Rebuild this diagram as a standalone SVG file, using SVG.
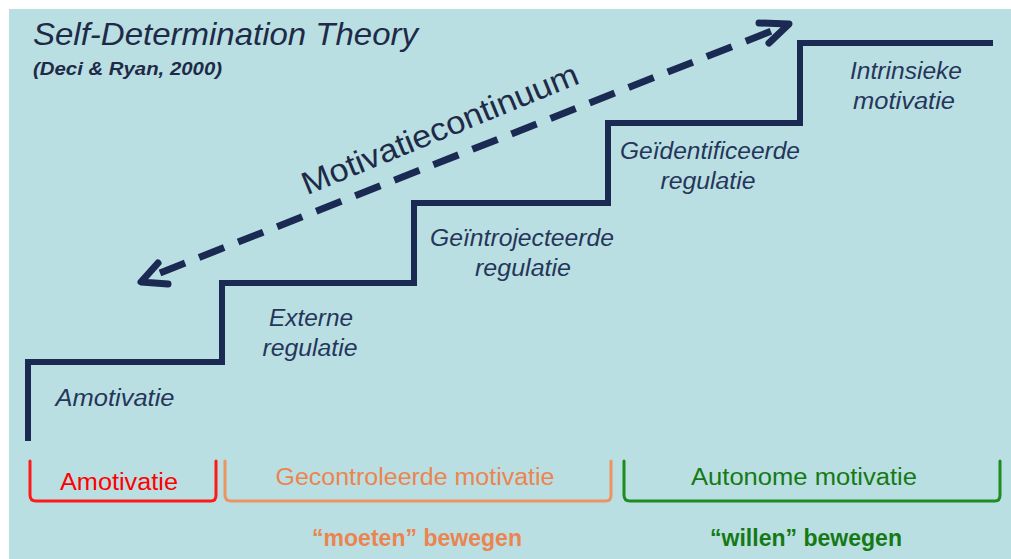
<svg xmlns="http://www.w3.org/2000/svg" width="1011" height="559" viewBox="0 0 1011 559">
<defs>
<style>
.lbl{font-family:"Liberation Sans",Arial,sans-serif;font-style:italic;font-size:23px;fill:#26365A;text-anchor:middle}
.brk{fill:none;stroke-width:3;stroke-linecap:round;stroke-linejoin:round}
.bt{font-family:"Liberation Sans",Arial,sans-serif;font-size:23px;text-anchor:middle}
</style>
</defs>
<rect x="0" y="0" width="1011" height="559" fill="#ffffff"/>
<rect x="9" y="9" width="1002" height="550" fill="#B9DFE3"/>
<g id="title">
<text x="33" y="45" font-family="Liberation Sans,Arial,sans-serif" font-style="italic" font-size="32" fill="#1F2A48" textLength="385" lengthAdjust="spacingAndGlyphs">Self-Determination Theory</text>
<text x="33" y="75" font-family="Liberation Sans,Arial,sans-serif" font-style="italic" font-weight="bold" font-size="18" fill="#1F2A48" textLength="189" lengthAdjust="spacingAndGlyphs">(Deci &amp; Ryan, 2000)</text>
</g>
<g id="connectors">
<path d="M28,441 V362 H222 V283 H414 V203 H608 V123 H800 V43 H993" fill="none" stroke="#1A2A52" stroke-width="6"/>
<line x1="160" y1="273" x2="774" y2="30" stroke="#1A2A52" stroke-width="7" stroke-dasharray="27 15"/>
<path d="M759,23 L789,24 L769,43" fill="none" stroke="#1A2A52" stroke-width="7" stroke-linecap="round" stroke-linejoin="round"/>
<path d="M158,263 L141,282 L168,284" fill="none" stroke="#1A2A52" stroke-width="7" stroke-linecap="round" stroke-linejoin="round"/>
</g>
<g id="continuum">
<text transform="translate(444,139) rotate(-22.3)" font-family="Liberation Sans,Arial,sans-serif" font-size="32" fill="#1F2A48" text-anchor="middle" textLength="296" lengthAdjust="spacingAndGlyphs">Motivatiecontinuum</text>
</g>
<g id="amotivatie-step"><text class="lbl" x="115" y="406" textLength="119" lengthAdjust="spacingAndGlyphs">Amotivatie</text></g>
<g id="externe"><text class="lbl" x="311" y="326" textLength="84" lengthAdjust="spacingAndGlyphs">Externe</text><text class="lbl" x="310" y="356" textLength="95" lengthAdjust="spacingAndGlyphs">regulatie</text></g>
<g id="geintrojecteerde"><text class="lbl" x="522" y="246" textLength="184" lengthAdjust="spacingAndGlyphs">Geïntrojecteerde</text><text class="lbl" x="523" y="276" textLength="96" lengthAdjust="spacingAndGlyphs">regulatie</text></g>
<g id="geidentificeerde"><text class="lbl" x="710" y="159" textLength="180" lengthAdjust="spacingAndGlyphs">Geïdentificeerde</text><text class="lbl" x="708" y="189" textLength="95" lengthAdjust="spacingAndGlyphs">regulatie</text></g>
<g id="intrinsieke"><text class="lbl" x="906" y="79" textLength="112" lengthAdjust="spacingAndGlyphs">Intrinsieke</text><text class="lbl" x="904" y="109" textLength="102" lengthAdjust="spacingAndGlyphs">motivatie</text></g>
<g id="amotivatie-group">
<path class="brk" stroke="#FF1A1A" d="M30,461 V495 Q30,501 36,501 H211 Q216,501 216,495 V461"/>
<text class="bt" x="119" y="490" fill="#FF0000" textLength="118" lengthAdjust="spacingAndGlyphs">Amotivatie</text>
</g>
<g id="gecontroleerd-group">
<path class="brk" stroke="#EE9460" d="M225,461 V495 Q225,501 231,501 H606 Q611,501 611,495 V461"/>
<text class="bt" x="415" y="485" fill="#EC8450" textLength="279" lengthAdjust="spacingAndGlyphs">Gecontroleerde motivatie</text>
<text class="bt" x="417" y="546" fill="#EC8450" font-weight="bold" textLength="210" lengthAdjust="spacingAndGlyphs">“moeten” bewegen</text>
</g>
<g id="autonoom-group">
<path class="brk" stroke="#1E8C1E" d="M624,461 V495 Q624,501 630,501 H995 Q1000,501 1000,495 V461"/>
<text class="bt" x="804" y="485" fill="#157A15" textLength="226" lengthAdjust="spacingAndGlyphs">Autonome motivatie</text>
<text class="bt" x="806" y="546" fill="#157A15" font-weight="bold" textLength="192" lengthAdjust="spacingAndGlyphs">“willen” bewegen</text>
</g>
</svg>
